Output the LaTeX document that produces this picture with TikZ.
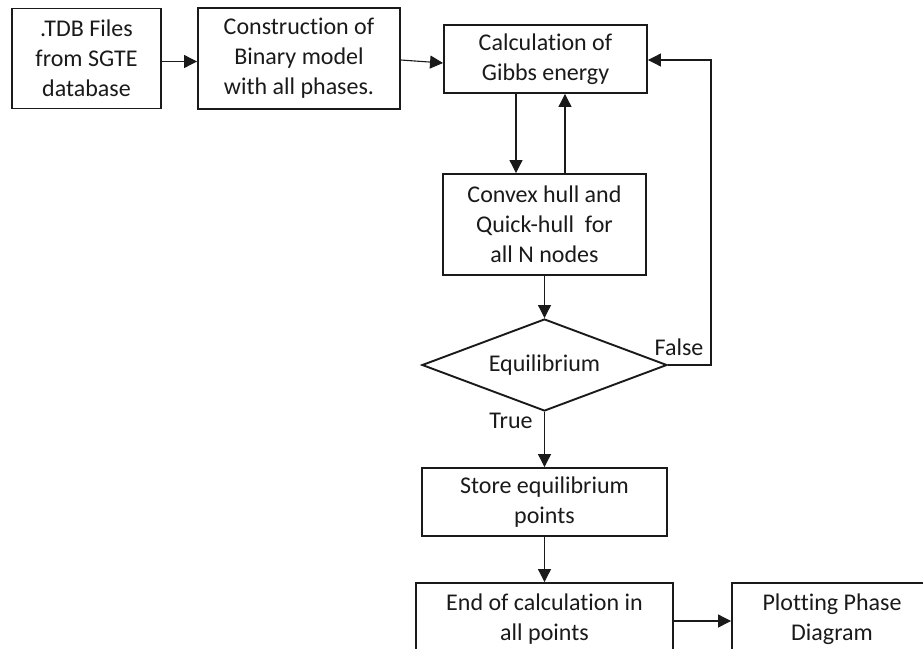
\documentclass[tikz,border=0pt]{standalone}
\usepackage{fontspec}
\setmainfont{Carlito}[Ligatures={NoCommon}]
\usetikzlibrary{arrows.meta,shapes.geometric,calc}
\definecolor{ink}{HTML}{1A1A1A}
\tikzset{
  boxnode/.style={draw=ink,line width=1.9pt,rectangle,inner sep=0pt,align=center,
    font=\fontsize{24}{30}\selectfont,text=ink},
  diam/.style={draw=ink,line width=1.9pt,diamond,inner sep=0pt,aspect=2.66,
    font=\fontsize{24}{30}\selectfont,text=ink},
  lbl/.style={font=\fontsize{24}{30}\selectfont,text=ink,inner sep=0pt},
  arr/.style={draw=ink,line width=1.1pt,-{Triangle[length=13pt,width=13pt]}},
}
\begin{document}
\begin{tikzpicture}[x=1pt,y=-1pt]
\useasboundingbox (0,0) rectangle (923,648);
\clip (0,0) rectangle (923,648);
\node[boxnode,minimum width=149pt,minimum height=100pt] (tdb) at (86.5,58.5) {.TDB Files\\from SGTE\\database};
\node[boxnode,minimum width=202pt,minimum height=101pt] (bin) at (299,58.5) {Construction of\\Binary model\\with all phases.};
\node[boxnode,minimum width=203pt,minimum height=68pt] (gibbs) at (545.5,59) {Calculation of\\Gibbs energy};
\node[boxnode,minimum width=203pt,minimum height=101pt] (hull) at (544.5,224.5) {Convex hull and\\Quick-hull\ \ for\\all N nodes};
\node[diam,minimum width=245pt,minimum height=92pt] (eq) at (544.5,365) {Equilibrium};
\node[boxnode,minimum width=245pt,minimum height=68pt] (store) at (544.5,502) {Store equilibrium\\points};
\node[boxnode,minimum width=257pt,minimum height=72pt] (endc) at (544.5,619) {End of calculation in\\all points};
\node[boxnode,minimum width=200pt,minimum height=72pt] (plot) at (832,619) {Plotting Phase\\Diagram};
\node[lbl] (false) at (679,347) {False};
\node[lbl] (true) at (511,421) {True};
\coordinate (fr) at (711,365);
\coordinate (fu) at (711,60);
\draw[arr] ([yshift=-3pt]tdb.east) -- ([yshift=-3pt]bin.west);
\draw[arr] ([yshift=-1.5pt]bin.east) -- ([yshift=-4pt]gibbs.west);
\draw[arr] ([xshift=-29.5pt]gibbs.south) -- ([xshift=-28.5pt]hull.north);
\draw[arr] ([xshift=20.5pt]hull.north) -- ([xshift=19.5pt]gibbs.south);
\draw[arr] (hull.south) -- (eq.north);
\draw[arr] (eq.east) -- (fr) -- (fu) -- (gibbs.east |- fu);
\draw[arr] (eq.south) -- (store.north);
\draw[arr] (store.south) -- (endc.north);
\draw[arr] ([yshift=-2pt]endc.east) -- ([yshift=-2pt]plot.west);
\end{tikzpicture}
\end{document}
